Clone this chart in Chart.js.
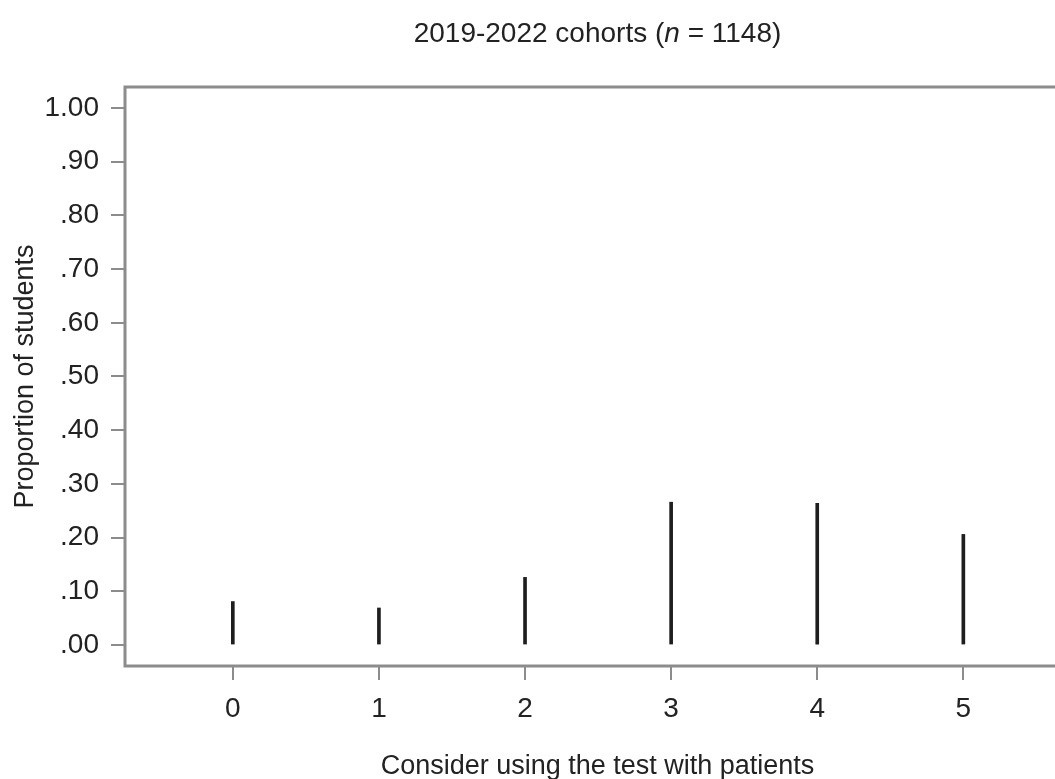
<!DOCTYPE html>
<html><head><meta charset="utf-8">
<script src="https://cdn.jsdelivr.net/npm/chart.js@4"></script>
<style>html,body{margin:0;padding:0;background:#fff;overflow:hidden;width:1055px;height:779px}
#wrap{width:1070px;height:779px}</style></head>
<body><div id="wrap"><canvas id="c" width="1070" height="779"></canvas></div>
<script>
const categories = [0, 1, 2, 3, 4, 5];
const proportions = [0.081, 0.069, 0.126, 0.266, 0.264, 0.206];
const yTicks = [0, 0.1, 0.2, 0.3, 0.4, 0.5, 0.6, 0.7, 0.8, 0.9, 1.0];
const yTickLabels = ['.00', '.10', '.20', '.30', '.40', '.50', '.60', '.70', '.80', '.90', '1.00'];
const xTickLabels = ['0', '1', '2', '3', '4', '5'];
const titleParts = [['2019-2022 cohorts (', 'normal'], ['n', 'italic'], [' = 1148)', 'normal']];
const xTitle = 'Consider using the test with patients';
const yTitle = 'Proportion of students';

const FONT = "'Liberation Sans', Arial, sans-serif";
const AXIS = '#8c8c8c';
const TEXT = '#222';

const boxPlugin = {
  id: 'box',
  beforeDatasetsDraw(chart) {
    const a = chart.chartArea, ctx = chart.ctx;
    ctx.save();
    ctx.strokeStyle = AXIS; ctx.lineWidth = 3;
    ctx.strokeRect(a.left, a.top, a.right - a.left, a.bottom - a.top);
    ctx.restore();
  }
};
const titlePlugin = {
  id: 'mixedTitle',
  afterDraw(chart) {
    const a = chart.chartArea, ctx = chart.ctx;
    ctx.save();
    ctx.fillStyle = TEXT; ctx.textBaseline = 'middle';
    let w = 0;
    titleParts.forEach(([t, s]) => { ctx.font = s + ' 28px ' + FONT; w += ctx.measureText(t).width; });
    let x = (a.left + a.right) / 2 - w / 2;
    titleParts.forEach(([t, s]) => { ctx.font = s + ' 28px ' + FONT; ctx.fillText(t, x, 34); x += ctx.measureText(t).width; });
    ctx.restore();
  }
};

new Chart(document.getElementById('c'), {
  type: 'bar',
  data: {
    datasets: [{
      data: categories.map((c, i) => ({ x: c, y: proportions[i] })),
      backgroundColor: '#1e1e1e',
      barThickness: 3,
      borderWidth: 0
    }]
  },
  options: {
    responsive: false,
    devicePixelRatio: 1,
    animation: false,
    layout: { padding: { top: 87, left: 0, right: 0, bottom: 0 } },
    plugins: { legend: { display: false }, tooltip: { enabled: false }, title: { display: false } },
    scales: {
      x: {
        type: 'linear', min: -0.738, max: 5.73, offset: false,
        afterBuildTicks: s => { s.ticks = categories.map(v => ({ value: v })); },
        afterFit: s => { s.height = 113; },
        border: { display: false },
        grid: { display: true, offset: false, drawOnChartArea: false, drawTicks: true, tickLength: 14, color: AXIS, lineWidth: 2 },
        ticks: { padding: 12, color: TEXT, font: { family: FONT, size: 28 }, maxRotation: 0, autoSkip: false,
          callback: (v, i) => xTickLabels[i] },
        title: { display: true, text: xTitle, color: TEXT, font: { family: FONT, size: 27 }, padding: { top: 0, bottom: -4 } }
      },
      y: {
        type: 'linear', min: -0.039, max: 1.039,
        afterBuildTicks: s => { s.ticks = yTicks.map(v => ({ value: v })); },
        afterFit: s => { s.width = 125; },
        border: { display: false },
        grid: { display: true, drawOnChartArea: false, drawTicks: true, tickLength: 14, color: AXIS, lineWidth: 2 },
        ticks: { padding: 12, color: TEXT, font: { family: FONT, size: 28 }, autoSkip: false,
          callback: (v, i) => yTickLabels[i] },
        title: { display: true, text: yTitle, color: TEXT, font: { family: FONT, size: 27 }, padding: { top: 9, bottom: 0 } }
      }
    }
  },
  plugins: [boxPlugin, titlePlugin]
});
</script></body></html>
